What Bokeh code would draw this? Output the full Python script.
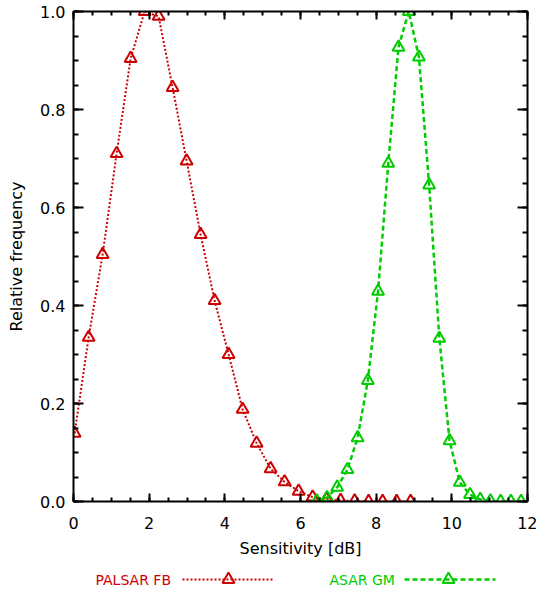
from bokeh.plotting import figure
from bokeh.layouts import column
from bokeh.models import (Range1d, LinearAxis, SingleIntervalTicker, CustomJSTickFormatter)
from bokeh.core.properties import value
from bokeh.embed import file_html
from bokeh.resources import INLINE

# ---- data ----
palsar_x = [0.03, 0.40, 0.77, 1.14, 1.51, 1.88, 2.25, 2.62, 2.99, 3.36, 3.73, 4.10, 4.47,
            4.84, 5.21, 5.58, 5.95, 6.32, 6.69, 7.06, 7.43, 7.80, 8.17, 8.54, 8.91]
palsar_y = [0.139, 0.335, 0.504, 0.710, 0.904, 1.000, 0.990, 0.845, 0.695, 0.545, 0.410,
            0.300, 0.188, 0.119, 0.067, 0.040, 0.021, 0.009, 0.005, 0.002, 0.001, 0.0,
            0.0, 0.0, 0.0]
asar_x = [6.43, 6.70, 6.97, 7.24, 7.51, 7.78, 8.05, 8.32, 8.59, 8.86, 9.13, 9.40, 9.67,
          9.94, 10.21, 10.48, 10.75, 11.02, 11.29, 11.56, 11.83]
asar_y = [0.001, 0.008, 0.029, 0.065, 0.130, 0.247, 0.429, 0.690, 0.927, 1.000, 0.907,
          0.646, 0.333, 0.124, 0.039, 0.014, 0.004, 0.001, 0.0, 0.0, 0.0]
series_names = ["PALSAR FB", "ASAR GM"]
x_label = "Sensitivity [dB]"
y_label = "Relative frequency"

RED = "#cc0000"
GREEN = "#00cc00"
FONT = "DejaVu Sans ExtraLight, DejaVu Sans"

p = figure(width=537, height=562, x_range=Range1d(0, 12), y_range=Range1d(0, 1),
           output_backend="svg", toolbar_location=None,
           min_border_left=73, min_border_right=10, min_border_top=11, min_border_bottom=61,
           x_axis_type=None, y_axis_type=None)
p.outline_line_color = None
p.background_fill_color = "white"
p.border_fill_color = "white"

xt = SingleIntervalTicker(interval=2, num_minor_ticks=4)
yt = SingleIntervalTicker(interval=0.2, num_minor_ticks=4)
blank = CustomJSTickFormatter(code="return '';")


def style_axis(ax, is_x, labels=True):
    ax.axis_line_color = "black"
    ax.axis_line_width = 2
    ax.major_tick_line_color = "black"
    ax.minor_tick_line_color = "black"
    ax.major_tick_line_width = 2
    ax.minor_tick_line_width = 2
    ax.major_tick_out = 0
    ax.minor_tick_out = 0
    ax.major_tick_in = 8 if is_x else 10
    ax.minor_tick_in = 4 if is_x else 5
    ax.major_label_text_font = FONT
    ax.major_label_text_color = "black"
    ax.major_label_text_font_size = "16px"
    ax.axis_label_text_font = FONT
    ax.axis_label_text_font_style = "normal"
    ax.axis_label_text_color = "black"
    ax.axis_label_text_font_size = "16px"
    if not labels:
        ax.major_label_standoff = 0


xb = LinearAxis(ticker=xt, formatter=CustomJSTickFormatter(code="return tick.toFixed(0);"),
                axis_label=x_label)
style_axis(xb, True)
xb.major_label_standoff = 15
xb.axis_label_standoff = 7
p.add_layout(xb, "below")

xa = LinearAxis(ticker=xt, formatter=blank)
style_axis(xa, True, labels=False)
p.add_layout(xa, "above")

yl = LinearAxis(ticker=yt, formatter=CustomJSTickFormatter(code="return tick.toFixed(1);"),
                axis_label=y_label)
style_axis(yl, False)
yl.major_label_standoff = 8
yl.axis_label_standoff = 11
p.add_layout(yl, "left")

yr = LinearAxis(ticker=yt, formatter=blank)
style_axis(yr, False, labels=False)
p.add_layout(yr, "right")

p.line(palsar_x, palsar_y, line_color=RED, line_width=2, line_dash="2 2")
p.scatter(palsar_x, palsar_y, marker="triangle", size=12, fill_color=None,
          line_color=RED, line_width=2)
p.line(asar_x, asar_y, line_color=GREEN, line_width=2.5, line_dash="5 3")
p.scatter(asar_x, asar_y, marker="triangle", size=12, fill_color=None,
          line_color=GREEN, line_width=2)

# ---- legend strip (label, then sample line with marker); frame aligned with plot frame ----
leg = figure(width=537, height=30, x_range=Range1d(0, 454), y_range=Range1d(30, 0),
             output_backend="svg", toolbar_location=None,
             min_border_left=73, min_border_right=10, min_border_top=0, min_border_bottom=0,
             x_axis_type=None, y_axis_type=None)
leg.outline_line_color = None
leg.xgrid.visible = False
leg.ygrid.visible = False

LY = 17
legend_specs = [
    (series_names[0], RED, "2 2", 2, 22, 109, 199, 155),
    (series_names[1], GREEN, "5 3", 2.5, 256, 331, 422, 375),
]
for name, col, dash, lw, tx, lx0, lx1, mx in legend_specs:
    leg.text(x=[tx], y=[LY], text=[name], text_color=col, text_font=value(FONT),
             text_font_size="14px", text_baseline="middle", text_align="left")
    leg.line([lx0, lx1], [LY, LY], line_color=col, line_width=lw, line_dash=dash)
    leg.scatter([mx], [LY], marker="triangle", size=12, fill_color=None,
                line_color=col, line_width=2)

layout = column(p, leg, spacing=0)
open("out.html", "w").write(file_html(layout, INLINE))
